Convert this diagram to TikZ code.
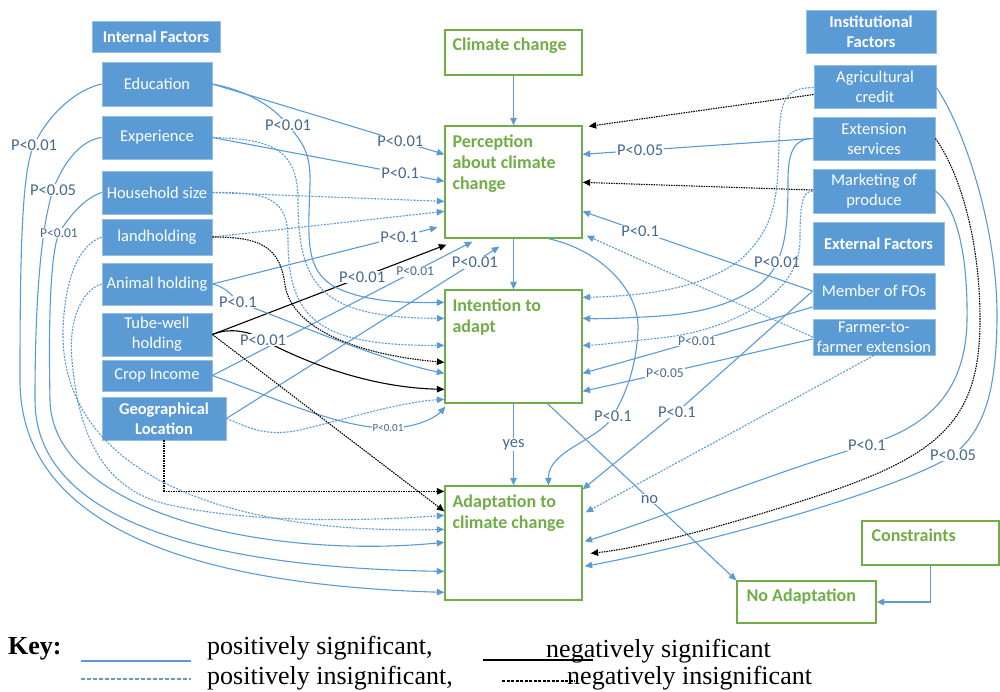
\documentclass[tikz,border=0pt]{standalone}
\usepackage{fontspec}
\setmainfont{Liberation Serif}
\newfontfamily\carl{Carlito}
\usetikzlibrary{arrows.meta}
\definecolor{bblue}{HTML}{5B9BD5}
\definecolor{lblue}{HTML}{5B9BD5}
\definecolor{labc}{HTML}{44698F}
\definecolor{ggreen}{HTML}{70AD47}
\tikzset{
 bbox/.style={draw=white!35!bblue, line width=0.8pt, fill=bblue, text=white, font=\carl\fontsize{16.5}{20}\selectfont, align=center, inner sep=0pt},
 hbox/.style={bbox, font=\carl\bfseries\fontsize{16.5}{20}\selectfont},
 gbox/.style={draw=ggreen, line width=1.3pt, inner sep=0pt},
 gtext/.style={text=ggreen, font=\carl\bfseries\fontsize{18}{21}\selectfont, align=left, inner sep=0pt, anchor=base west},
 psig/.style={draw=lblue, line width=1.1pt, -{Triangle[length=7.5pt,width=6.5pt]}},
 pins/.style={psig, dash pattern=on 2pt off 1.3pt},
 nsig/.style={draw=black, line width=1.1pt, -{Triangle[length=7.5pt,width=6.5pt]}},
 nins/.style={nsig, dash pattern=on 1.5pt off 1pt},
 plab/.style={text=labc, font=\carl\fontsize{16.5}{18}\selectfont, fill=white, inner sep=1pt},
 mlab/.style={plab, font=\carl\fontsize{13.5}{15}\selectfont},
 slab/.style={plab, font=\carl\fontsize{11}{12}\selectfont},
 keytxt/.style={anchor=base west, inner sep=0pt, font=\fontsize{26}{28}\selectfont},
}
\begin{document}
\begin{tikzpicture}[x=1pt,y=-1pt]
\fill[white] (0,0) rectangle (1000,691);
\useasboundingbox (0,0) rectangle (1000,691);

% left blue boxes
\node[hbox, minimum width=128pt, minimum height=31pt] (intf) at (156,36.5) {Internal Factors};
\node[bbox, minimum width=110pt, minimum height=44pt] (edu) at (157,84) {Education};
\node[bbox, minimum width=110pt, minimum height=43pt] (exp) at (157,137.5) {Experience};
\node[bbox, minimum width=110pt, minimum height=43pt] (hh) at (157,192.5) {Household size};
\node[bbox, minimum width=110pt, minimum height=36pt] (land) at (157,237) {landholding};
\node[bbox, minimum width=110pt, minimum height=42pt] (anim) at (157,284) {Animal holding};
\node[bbox, minimum width=110pt, minimum height=43pt] (tube) at (157,334.5) {Tube-well\\holding};
\node[bbox, minimum width=110pt, minimum height=31pt] (crop) at (157,375.5) {Crop Income};
\node[hbox, minimum width=124pt, minimum height=43pt] (geo) at (164,418.5) {Geographical\\Location};

% right blue boxes
\node[hbox, minimum width=130pt, minimum height=43pt] (instf) at (871,31.5) {Institutional\\Factors};
\node[bbox, minimum width=122pt, minimum height=43pt] (agri) at (875,86.5) {Agricultural\\credit};
\node[bbox, minimum width=122pt, minimum height=43pt] (ext) at (874,138.5) {Extension\\services};
\node[bbox, minimum width=122pt, minimum height=44pt] (mkt) at (874,191) {Marketing of\\produce};
\node[hbox, minimum width=131pt, minimum height=43pt] (extf) at (878.5,243.5) {External Factors};
\node[bbox, minimum width=122pt, minimum height=36pt] (fos) at (874,291) {Member of FOs};
\node[bbox, minimum width=122pt, minimum height=36pt] (ff) at (874,337) {Farmer-to-\\farmer extension};

% green boxes (label anchor base = last line's baseline)
\node[gbox, minimum width=137pt, minimum height=45pt, label={[gtext, xshift=8pt, yshift=-21pt]north west:Climate change}] (clim) at (513.5,52.5) {};
\node[gbox, minimum width=137pt, minimum height=112pt, label={[gtext, xshift=8pt, yshift=-64pt]north west:Perception\\about climate\\change}] (perc) at (513.5,182) {};
\node[gbox, minimum width=137pt, minimum height=113pt, label={[gtext, xshift=8pt, yshift=-43pt]north west:Intention to\\adapt}] (int) at (513.5,346.5) {};
\node[gbox, minimum width=137pt, minimum height=114pt, label={[gtext, xshift=8pt, yshift=-43pt]north west:Adaptation to\\climate change}] (adap) at (513.5,543) {};
\node[gbox, minimum width=139pt, minimum height=42pt, label={[gtext, xshift=10pt, yshift=-21pt]north west:No Adaptation}] (noad) at (806.5,602) {};
\node[gbox, minimum width=137pt, minimum height=44pt, label={[gtext, xshift=10pt, yshift=-21pt]north west:Constraints}] (cons) at (930.5,543) {};

% central chain
\draw[psig] (clim) -- (perc);
\draw[psig] (perc) -- (int);
\draw[psig] (int) -- node[plab]{yes} (adap);
\draw[psig] ([xshift=34pt]int.south) -- node[plab, pos=0.54]{no} (noad.north west);
\draw[psig] (cons.south) |- (noad.east);

% left -> perception
\draw[psig] (edu.east) -- node[plab,pos=0.81]{P<0.01} ([yshift=-29pt]perc.north west);
\draw[psig] (exp.east) -- node[plab,pos=0.81]{P<0.1} ([yshift=-56pt]perc.north west);
\draw[pins] (hh.east) -- ([yshift=-76pt]perc.north west);
\draw[pins] (land.east) -- ([yshift=-86pt]perc.north west);
\draw[psig] (anim.east) -- node[plab,pos=0.83]{P<0.1} ([xshift=-7pt,yshift=-102pt]perc.north west);
\draw[nsig] (tube.east) -- node[plab,pos=0.64]{P<0.01} ([xshift=2pt,yshift=-6pt]perc.south west);
\draw[psig] (crop.east) -- node[mlab,pos=0.78]{P<0.01} ([xshift=28pt,yshift=-3pt]perc.south west);
\draw[psig] (geo.east) -- node[plab,pos=0.91]{P<0.01} ([xshift=55pt,yshift=-8pt]perc.south west);

% left -> intention
\draw[psig] (edu.east) .. controls (245,90) and (272,105) .. (288,125) node[plab]{P<0.01} .. controls (302,142) and (311,152) .. (310,185) .. controls (308,240) and (305,270) .. (335,287) .. controls (365,302) and (405,303) .. ([yshift=-13pt]int.north west);
\draw[pins] (exp.east) .. controls (270,139) and (298,148) .. (298,200) .. controls (298,285) and (320,318) .. ([yshift=-29pt]int.north west);
\draw[pins] (hh.east) .. controls (268,192) and (288,198) .. (288,240) .. controls (288,320) and (320,346) .. ([yshift=-56pt]int.north west);
\draw[nins] (land.east) .. controls (258,237) and (280,245) .. (285,285) .. controls (292,330) and (360,355) .. ([yshift=-73pt]int.north west);
\draw[psig] (anim.east) .. controls (222,286) and (230,292) .. (238,302) node[plab]{P<0.1} .. controls (300,325) and (380,360) .. ([yshift=-84pt]int.north west);
\draw[nsig] (tube.east) .. controls (228,328) and (248,330) .. (263,340) node[plab]{P<0.01} .. controls (330,375) and (390,388) .. ([yshift=-100pt]int.north west);
\draw[psig] (crop.east) .. controls (280,400) and (340,428) .. (388,428) node[slab]{P<0.01} .. controls (420,428) and (438,415) .. ([xshift=1pt,yshift=-3pt]int.south west);
\draw[pins] (geo.east) .. controls (245,425) and (262,438) .. (300,430) .. controls (350,418) and (400,402) .. ([yshift=-110pt]int.north west);

% left -> adaptation
\draw[nins] (geo.south) |- ([yshift=-6pt]adap.north west);
\draw[nins] (tube.east) -- ([yshift=-26pt]adap.north west);
\draw[psig] (edu.west) .. controls (75,90) and (48,115) .. (34,145) node[plab]{P<0.01} .. controls (22,170) and (20,250) .. (20,380) .. controls (20,530) and (200,585) .. ([yshift=-107pt]adap.north west);
\draw[psig] (exp.west) .. controls (80,140) and (62,165) .. (53,190) node[plab]{P<0.05} .. controls (45,215) and (35,270) .. (35,400) .. controls (35,525) and (220,568) .. ([yshift=-86pt]adap.north west);
\draw[psig] (hh.west) .. controls (85,198) and (70,215) .. (59,233) node[mlab]{P<0.01} .. controls (52,250) and (48,300) .. (50,400) .. controls (52,510) and (260,560) .. ([yshift=-57pt]adap.north west);
\draw[pins] (land.west) .. controls (80,245) and (65,275) .. (63,330) .. controls (60,470) and (220,535) .. ([yshift=-44pt]adap.north west);
\draw[pins] (anim.west) .. controls (82,290) and (68,320) .. (72,360) .. controls (78,430) and (100,490) .. (170,505) .. controls (260,525) and (380,520) .. ([yshift=-30pt]adap.north west);

% right -> perception
\draw[nins] ([yshift=-8pt]agri.west) -- ([xshift=6pt,yshift=-1pt]perc.north east);
\draw[psig] (ext.west) -- node[plab,pos=0.75]{P<0.05} ([yshift=-29pt]perc.north east);
\draw[nins] ([yshift=1pt]mkt.west) -- ([yshift=-57pt]perc.north east);
\draw[psig] (fos.west) -- node[plab,pos=0.75]{P<0.1} ([yshift=-86pt]perc.north east);
\draw[pins] (ff.west) -- ([xshift=4pt,yshift=3pt]perc.south east);

% right -> intention
\draw[pins] ([yshift=-1pt]agri.west) .. controls (785,88) and (780,100) .. (779,140) .. controls (778,200) and (775,228) .. (740,260) .. controls (700,290) and (640,296) .. ([yshift=-8pt]int.north east);
\draw[psig] (ext.west) .. controls (795,139) and (788,150) .. (788,180) .. controls (788,225) and (785,245) .. (777,262) node[plab]{P<0.01} .. controls (765,292) and (720,312) .. (660,316) .. controls (630,318) and (600,319) .. ([yshift=-29pt]int.north east);
\draw[pins] (mkt.west) .. controls (803,192) and (800,200) .. (800,240) .. controls (800,300) and (720,332) .. (660,338) .. controls (630,341) and (600,345) .. ([yshift=-56pt]int.north east);
\draw[psig] ([yshift=-16pt]fos.west) -- (697,341) node[mlab]{P<0.01} -- ([yshift=-84pt]int.north east);
\draw[psig] ([yshift=-2pt]ff.west) -- (665,373) node[mlab]{P<0.05} -- ([yshift=-102pt]int.north east);

% right -> adaptation
\draw[psig] (fos.west) -- (677,412) node[plab]{P<0.1} -- ([yshift=-4pt]adap.north east);
\draw[psig] ([xshift=35pt]perc.south) .. controls (600,250) and (640,290) .. (638,330) .. controls (636,370) and (625,395) .. (613,416) node[plab]{P<0.1} .. controls (600,440) and (548,450) .. ([xshift=35pt]adap.north);
\draw[pins] (ff.south) -- ([xshift=3pt,yshift=-27pt]adap.north east);
\draw[psig] (mkt.east) .. controls (955,205) and (968,250) .. (967,320) .. controls (966,385) and (935,425) .. (867,445) node[plab]{P<0.1} .. controls (780,470) and (650,522) .. ([xshift=2pt,yshift=-56pt]adap.north east);
\draw[nins] (ext.east) .. controls (955,165) and (980,230) .. (980,320) .. controls (980,420) and (940,455) .. (820,495) .. controls (720,528) and (640,548) .. ([xshift=8pt,yshift=-68pt]adap.north east);
\draw[psig] ([yshift=-1pt]agri.east) .. controls (965,130) and (998,230) .. (997,320) .. controls (996,390) and (985,430) .. (953,455) node[plab]{P<0.05} .. controls (900,490) and (700,545) .. ([xshift=2pt,yshift=-81pt]adap.north east);

% key
\node[keytxt, font=\bfseries\fontsize{26}{28}\selectfont] (key) at (8,654) {Key:};
\node[keytxt] (k1) at (207,654) {positively significant,};
\node[keytxt] (k2) at (207,684.5) {positively insignificant,};
\node[keytxt] (k3) at (546,657) {negatively significant};
\node[keytxt] (k4) at (567,684.5) {negatively insignificant};
\coordinate (ka1) at (81,661); \coordinate (kb1) at (191,661);
\coordinate (ka2) at (81,679); \coordinate (kb2) at (191,679);
\coordinate (ka3) at (483,660); \coordinate (kb3) at (593,660);
\coordinate (ka4) at (502,681); \coordinate (kb4) at (575,681);
\draw[lblue, line width=2pt] (ka1) -- (kb1);
\draw[lblue, line width=1.5pt, dash pattern=on 4pt off 2pt] (ka2) -- (kb2);
\draw[black, line width=2pt] (ka3) -- (kb3);
\draw[black, line width=1.5pt, dash pattern=on 3pt off 1.5pt] (ka4) -- (kb4);
\end{tikzpicture}
\end{document}
